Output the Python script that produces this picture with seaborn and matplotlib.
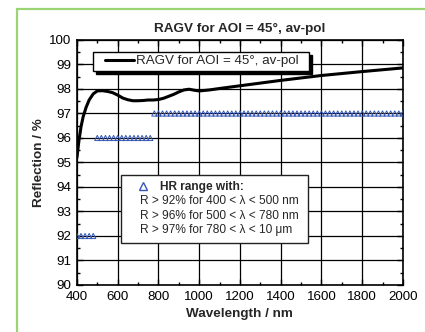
import numpy as np
import pandas as pd
import matplotlib
matplotlib.use('Agg')
import matplotlib.pyplot as plt
import matplotlib.transforms as mtransforms
from matplotlib.lines import Line2D
from matplotlib.patches import Rectangle
from matplotlib.ticker import MultipleLocator
import seaborn as sns

# ---- data ----
wavelength = [400, 410, 420, 430, 445, 460, 480, 500, 525, 550, 575, 600, 625, 650,
              675, 700, 725, 750, 775, 800, 825, 850, 875, 900, 925, 950, 975, 1000,
              1050, 1100, 1200, 1400, 1600, 1800, 2000]
reflection = [95.2, 95.9, 96.45, 96.85, 97.25, 97.55, 97.8, 97.92, 97.93, 97.9, 97.85,
              97.75, 97.63, 97.56, 97.52, 97.52, 97.53, 97.55, 97.55, 97.57, 97.62,
              97.7, 97.78, 97.88, 97.96, 97.99, 97.95, 97.92, 97.96, 98.02, 98.13,
              98.35, 98.55, 98.71, 98.86]

# HR spec ranges (marker every 20 nm within each range)
hr_start = [400, 500, 780]
hr_end = [480, 760, 2000]
hr_level = [92, 96, 97]
hr_step = 20

hr_lines = ['R > 92% for 400 < λ < 500 nm',
            'R > 96% for 500 < λ < 780 nm',
            'R > 97% for 780 < λ < 10 μm']

curve_label = 'RAGV for AOI = 45°, av-pol'
title = 'RAGV for AOI = 45°, av-pol'

curve_df = pd.DataFrame({'Wavelength': wavelength, 'Reflection': reflection})
hr_rows = []
for s, e, lv in zip(hr_start, hr_end, hr_level):
    for w in range(s, e + 1, hr_step):
        hr_rows.append({'Wavelength': w, 'Reflection': lv, 'seg': s})
hr_df = pd.DataFrame(hr_rows)

# ---- style ----
sns.set_style('ticks')
plt.rcParams['font.family'] = ['Liberation Sans', 'DejaVu Sans']

blue = '#3557b7'
green = '#9ad474'

fig = plt.figure(figsize=(4.25, 3.32), dpi=100)
ax = fig.add_axes([0.181, 0.1416, 0.767, 0.738])

sns.lineplot(data=curve_df, x='Wavelength', y='Reflection', color='black',
             linewidth=2.2, ax=ax, zorder=3, legend=False)
sns.scatterplot(data=hr_df, x='Wavelength', y='Reflection', marker='^',
                s=14, facecolor='none', edgecolor=blue, linewidth=0.7,
                ax=ax, zorder=4, legend=False)

ax.set_xlim(400, 2000)
ax.set_ylim(90, 100)
ax.xaxis.set_major_locator(MultipleLocator(200))
ax.xaxis.set_minor_locator(MultipleLocator(100))
ax.yaxis.set_major_locator(MultipleLocator(1))
ax.yaxis.set_minor_locator(MultipleLocator(0.5))
ax.tick_params(which='both', direction='in', top=True, right=True, colors='black',
               labelsize=9.6)
ax.tick_params(which='major', length=4, width=1)
ax.tick_params(which='minor', length=2.5, width=1)
ax.tick_params(axis='y', pad=4.3)
ax.tick_params(axis='x', pad=4)
ax.grid(True, which='major', color='black', linewidth=0.9)
for sp in ax.spines.values():
    sp.set_linewidth(1.2)
    sp.set_color('black')

ax.set_title(title, fontsize=9.7, fontweight='bold', pad=6)
ax.set_xlabel('Wavelength / nm', fontsize=9.7, fontweight='bold', labelpad=4)
ax.set_ylabel('Reflection / %', fontsize=9.7, fontweight='bold', labelpad=3)

# ---- legend 1 (curve) with shadowed box ----
shadow_tr = mtransforms.offset_copy(ax.transAxes, fig=fig, x=3, y=-3, units='dots')
ax.add_patch(Rectangle((0.049, 0.875), 0.663, 0.076, transform=shadow_tr,
                       facecolor='black', edgecolor='black', zorder=6, clip_on=False))
ax.add_patch(Rectangle((0.049, 0.875), 0.663, 0.076, transform=ax.transAxes,
                       facecolor='white', edgecolor='black', linewidth=1,
                       zorder=7, clip_on=False))
leg1 = ax.legend(handles=[Line2D([], [], color='black', linewidth=2.2)],
                 labels=[curve_label], loc='center left',
                 bbox_to_anchor=(0.086, 0.914), frameon=False, fontsize=9.6,
                 handlelength=2.2, handletextpad=0.1, borderpad=0,
                 borderaxespad=0)
leg1.set_zorder(8)
ax.add_artist(leg1)

# ---- legend 2 (HR spec) ----
ax.add_patch(Rectangle((0.135, 0.171), 0.574, 0.278, transform=ax.transAxes,
                       facecolor='white', edgecolor='#222222', linewidth=1,
                       zorder=7, clip_on=False))
leg2 = ax.legend(handles=[Line2D([], [], linestyle='none', marker='^', markersize=6,
                                 markerfacecolor='none', markeredgecolor=blue,
                                 markeredgewidth=1)],
                 labels=['HR range with:'], loc='center left',
                 bbox_to_anchor=(0.184, 0.401), frameon=False,
                 prop={'size': 8.6, 'weight': 'bold'},
                 handlelength=1, handletextpad=0.94, borderpad=0,
                 borderaxespad=0)
leg2.set_zorder(8)
for txt, yy in zip(hr_lines, [0.343, 0.283, 0.224]):
    ax.text(0.192, yy, txt, transform=ax.transAxes, fontsize=8.6,
            va='center', ha='left', zorder=8)

# ---- decorative green corner border ----
fig.add_artist(Line2D([17 / 425, 1], [1 - 9 / 332, 1 - 9 / 332],
                      transform=fig.transFigure, color=green, linewidth=1.6))
fig.add_artist(Line2D([17 / 425, 17 / 425], [0, 1 - 9 / 332],
                      transform=fig.transFigure, color=green, linewidth=1.6))

fig.savefig('out.png', dpi=100)
